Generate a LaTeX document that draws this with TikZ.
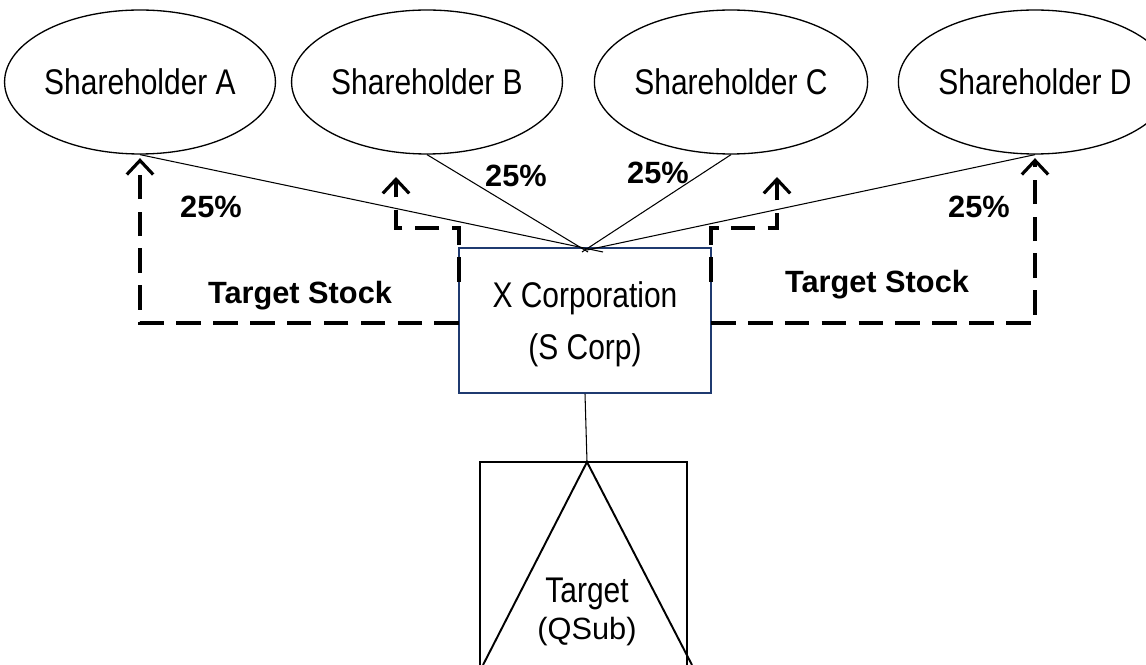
\documentclass[tikz,border=0pt]{standalone}
\usepackage{fontspec}
\setmainfont{Liberation Sans}
\newfontfamily\narrowfont[FakeStretch=0.84]{Liberation Sans}
\usetikzlibrary{shapes.geometric,arrows.meta}
\definecolor{navy}{HTML}{1F3A70}
\begin{document}
\begin{tikzpicture}[x=0.02cm,y=-0.02cm,
  holder/.style={draw=black,line width=0.75pt,ellipse,minimum width=5.08cm,minimum height=2.88cm,inner sep=0pt,
     font=\narrowfont\fontsize{20.3}{24}\selectfont},
  corpbox/.style={draw=navy,line width=0.9pt,rectangle,minimum width=5.04cm,minimum height=2.9cm,inner sep=0pt},
  corptext/.style={font=\narrowfont\fontsize{20.3}{24}\selectfont},
  thin/.style={line width=0.6pt},
  stockarrow/.style={line width=2pt,dash pattern=on 14pt off 7pt,
     -{Straight Barb[length=8pt,width=15pt,line width=1.8pt]}},
  pct/.style={font=\bfseries\fontsize{17.5}{21}\selectfont},
  qlabel/.style={font=\fontsize{17.5}{21}\selectfont},
  tlabel/.style={font=\narrowfont\fontsize{20.3}{24}\selectfont}]
\useasboundingbox (0,0) rectangle (1146,665);
\clip (0,0) rectangle (1146,665);
% shareholders
\node[holder] (A) at (140,82) {Shareholder A};
\node[holder] (B) at (427,82) {Shareholder B};
\node[holder] (C) at (731,82) {Shareholder C};
\node[holder] (D) at (1035,82) {Shareholder D};
% X corporation
\node[corpbox] (X) at (585,320.5) {};
\node[corptext] (x1) at (585,298) {X Corporation};
\node[corptext] (x2) at (585,350) {(S Corp)};
% convergence points
\coordinate (ca) at (603,252);
\coordinate (cb) at (588,252);
\coordinate (cc) at (582,252);
\coordinate (cd) at (587,250);
\draw[thin] (A.south) -- (ca);
\draw[thin] (B.south) -- (cb);
\draw[thin] (C.south) -- (cc);
\draw[thin] (D.south) -- (cd);
% target
\coordinate (T) at (587,462);
\coordinate (TL) at (483,665);
\coordinate (TR) at (692,665);
\coordinate (BL) at (480,665);
\coordinate (BR) at (687,665);
\draw[line width=1.1pt] (BL) -- (480,462) -- (687,462) -- (BR);
\draw[line width=1.1pt] (TL) -- (T) -- (TR);
\draw[thin] (X.south) -- (T);
\node[tlabel] (tt) at (587,594) {Target};
\node[qlabel] (tq) at (587,632) {(QSub)};
% dashed stock arrows
\coordinate (xl1) at (459,323);
\coordinate (xl2) at (459,282);
\coordinate (xr1) at (711,323);
\coordinate (xr2) at (711,282);
\coordinate (bl) at (396,177);
\coordinate (br) at (777,177);
\draw[stockarrow,shorten >=2pt] (xl1) -| (A.south);
\draw[stockarrow,shorten >=2pt] (xr1) -| (D.south);
\draw[stockarrow] (xl2) -- (459,228) -| (bl);
\draw[stockarrow] (xr2) -- (711,228) -| (br);
% labels
\node[pct] (pa) at (211,207) {25\%};
\node[pct] (pb) at (516,176) {25\%};
\node[pct] (pc) at (658,173) {25\%};
\node[pct] (pd) at (979,207) {25\%};
\node[pct] (tsl) at (300,296) {Target Stock};
\node[pct] (tsr) at (877,285) {Target Stock};
\end{tikzpicture}
\end{document}
